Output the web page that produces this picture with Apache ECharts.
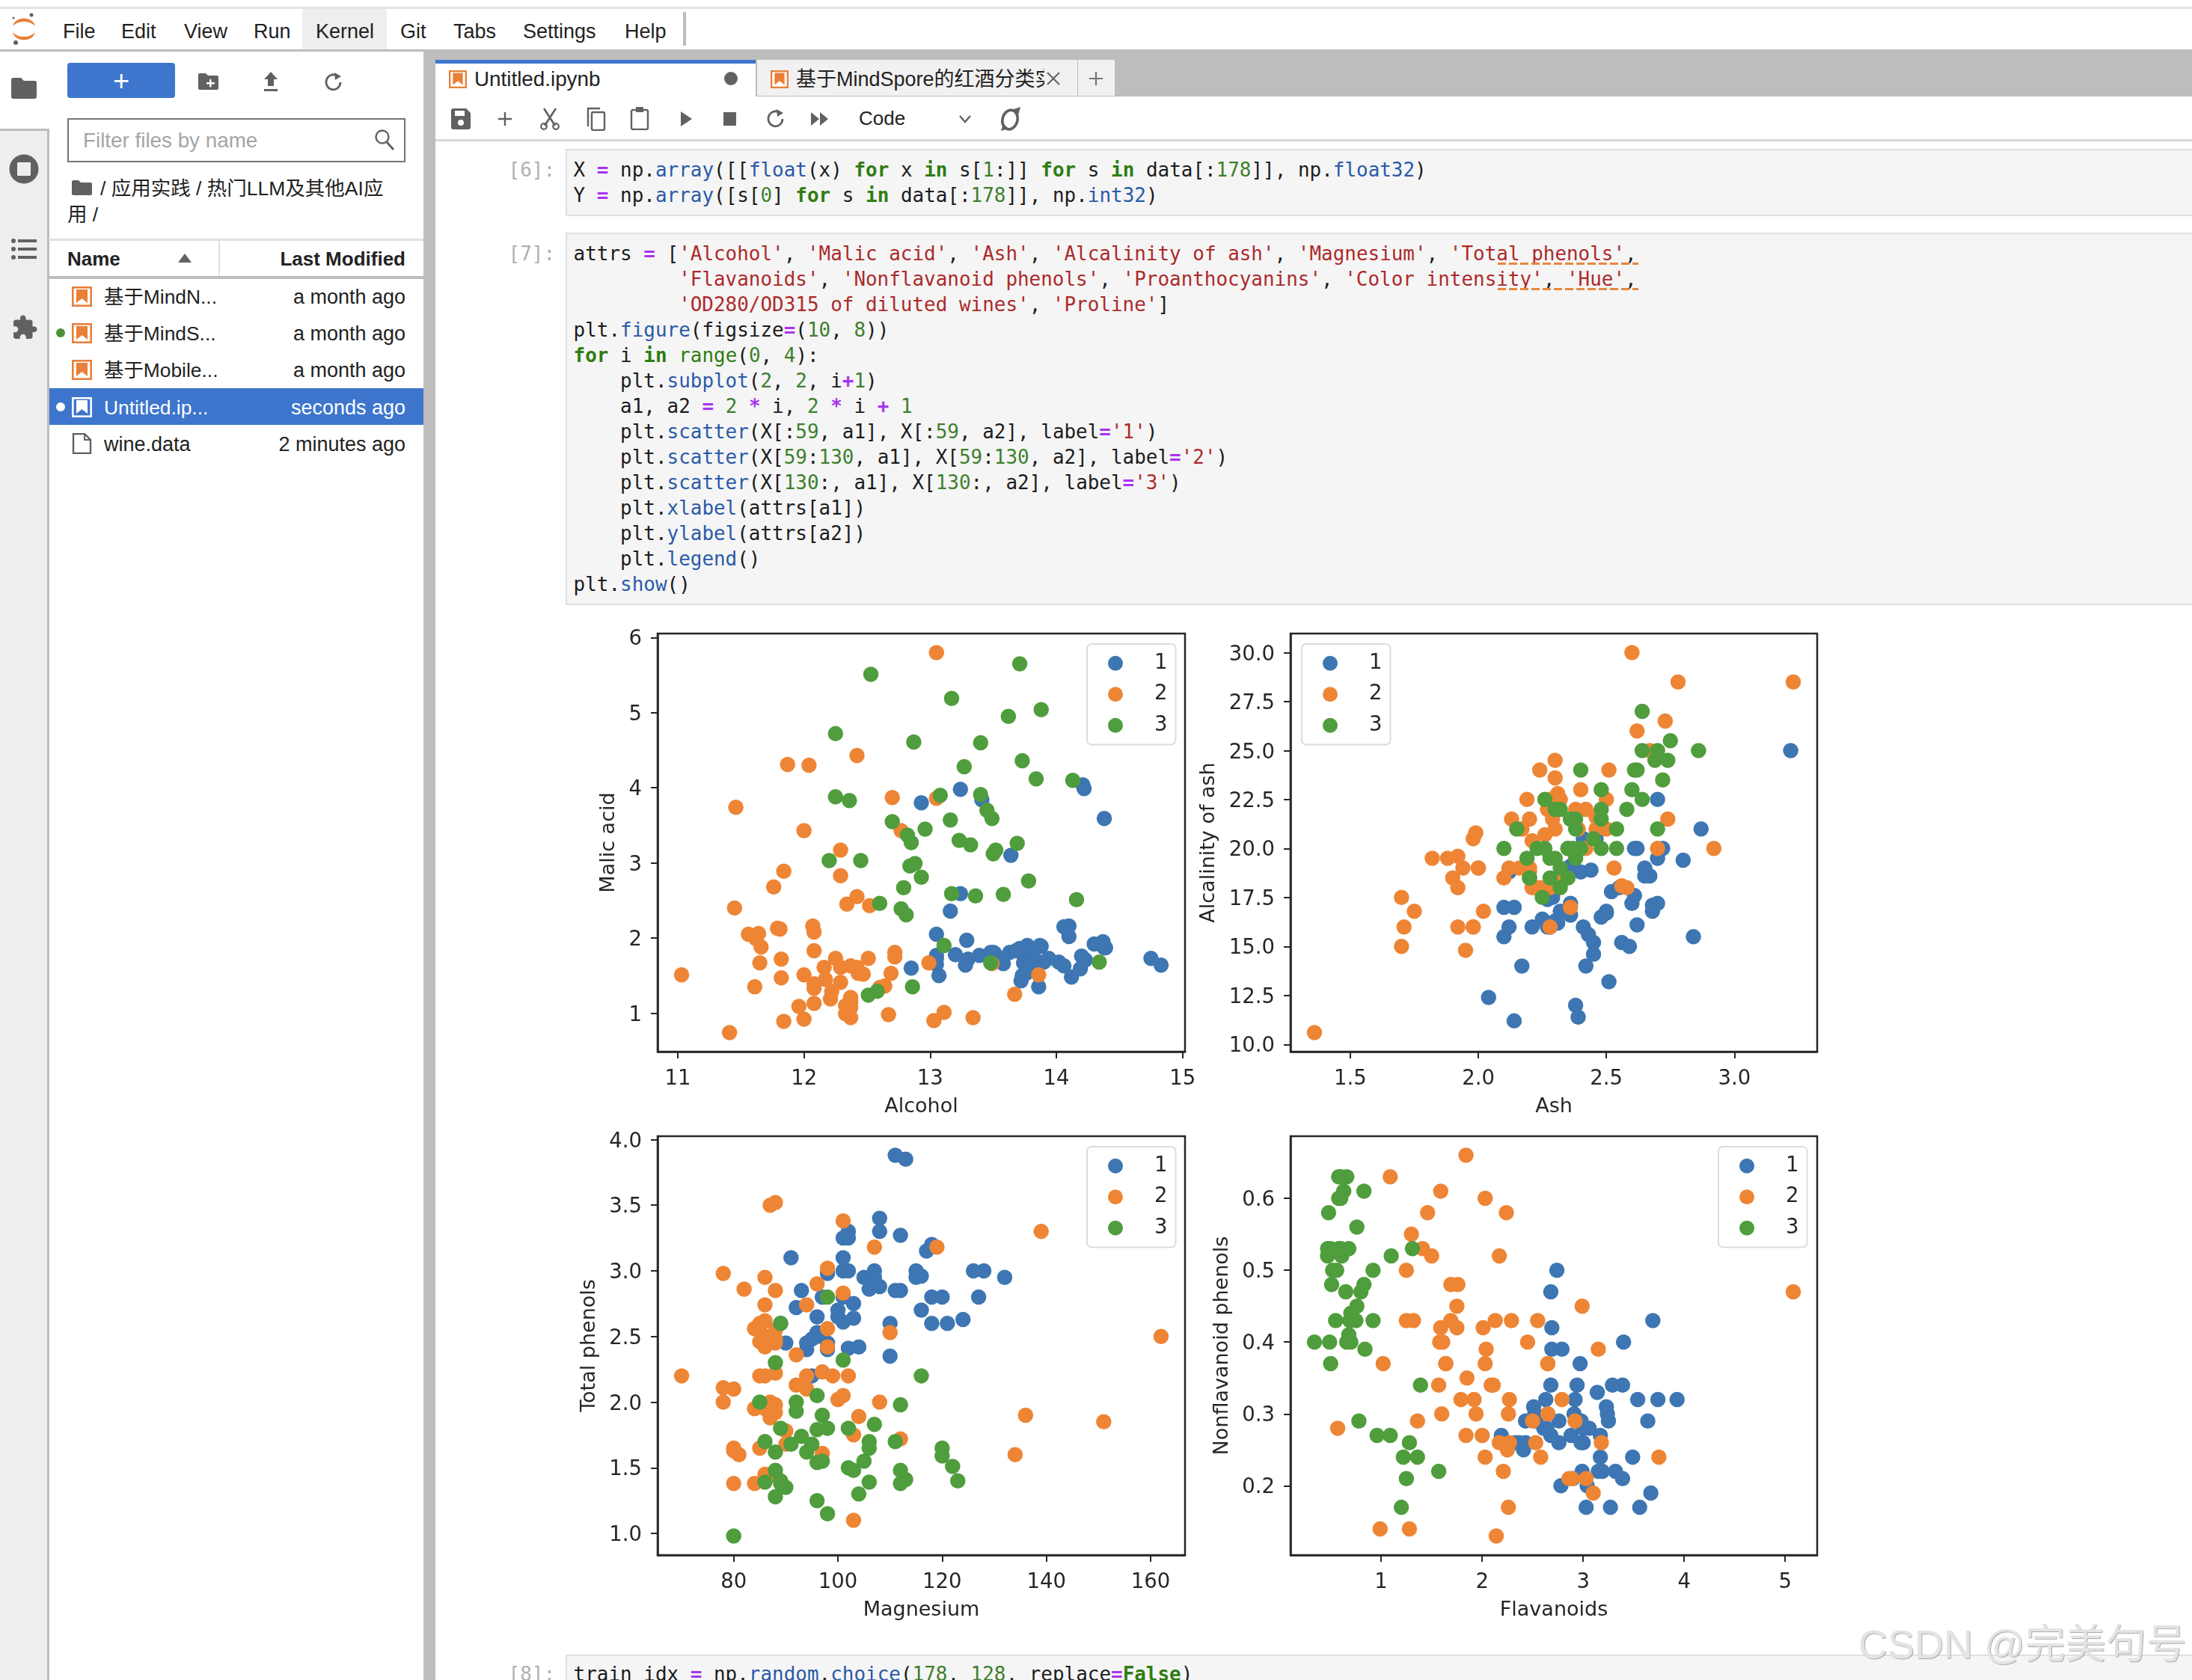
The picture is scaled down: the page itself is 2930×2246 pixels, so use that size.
<!DOCTYPE html>
<html><head><meta charset="utf-8">
<script src="https://cdn.jsdelivr.net/npm/echarts@6/dist/echarts.min.js"></script>
<style>
html,body{margin:0;padding:0;background:#fff;width:2930px;height:2246px;overflow:hidden}
#ui{position:absolute;left:0;top:0;width:2930px;height:2246px;overflow:hidden;font-family:"Liberation Sans","Noto Sans CJK SC",sans-serif;color:#222}
#ui div,#ui svg{position:absolute}
#chart{position:absolute;left:0;top:0;width:2930px;height:2246px}
.t{white-space:pre;line-height:40px;height:40px;font-size:27px}
.c{white-space:pre;line-height:34px;height:34px;font-family:"DejaVu Sans Mono",monospace;font-size:25.95px;color:#1c1c1c}
.c b{font-weight:700;color:#2f7d12}.c u{text-decoration:none;font-weight:700;color:#a933f0}
.c i{font-style:normal;color:#2a5aa8}.c s{text-decoration:none;color:#ac2a2a}.c em{font-style:normal;color:#3d7f2d}
.wm{white-space:pre;font-size:54px;line-height:70px;color:#e4e4e4;text-shadow:1px 1px 1px #a8a8a8}
</style></head><body>
<div id="ui"></div><div id="chart"></div>
<script>
// Columns: alcohol, malic acid, ash, alcalinity of ash, magnesium, total phenols, flavanoids, nonflavanoid phenols
const class1 = [
[14.23,1.71,2.43,15.6,127,2.8,3.06,.28],[13.2,1.78,2.14,11.2,100,2.65,2.76,.26],[13.16,2.36,2.67,18.6,101,2.8,3.24,.3],
[14.37,1.95,2.5,16.8,113,3.85,3.49,.24],[13.24,2.59,2.87,21,118,2.8,2.69,.39],[14.2,1.76,2.45,15.2,112,3.27,3.39,.34],
[14.39,1.87,2.45,14.6,96,2.5,2.52,.3],[14.06,2.15,2.61,17.6,121,2.6,2.51,.31],[14.83,1.64,2.17,14,97,2.8,2.98,.29],
[13.86,1.35,2.27,16,98,2.98,3.15,.22],[14.1,2.16,2.3,18,105,2.95,3.32,.22],[14.12,1.48,2.32,16.8,95,2.2,2.43,.26],
[13.75,1.73,2.41,16,89,2.6,2.76,.29],[14.75,1.73,2.39,11.4,91,3.1,3.69,.43],[14.38,1.87,2.38,12,102,3.3,3.64,.29],
[13.63,1.81,2.7,17.2,112,2.85,2.91,.3],[14.3,1.92,2.72,20,120,2.8,3.14,.33],[13.83,1.57,2.62,20,115,2.95,3.4,.4],
[14.19,1.59,2.48,16.5,108,3.3,3.93,.32],[13.64,3.1,2.56,15.2,116,2.7,3.03,.17],[14.06,1.63,2.28,16,126,3,3.17,.24],
[12.93,3.8,2.65,18.6,102,2.41,2.41,.25],[13.71,1.86,2.36,16.6,101,2.61,2.88,.27],[12.85,1.6,2.52,17.8,95,2.48,2.37,.26],
[13.5,1.81,2.61,20,96,2.53,2.61,.28],[13.05,2.05,3.22,25,124,2.63,2.68,.47],[13.39,1.77,2.62,16.1,93,2.85,2.94,.34],
[13.3,1.72,2.14,17,94,2.4,2.19,.27],[13.87,1.9,2.8,19.4,107,2.95,2.97,.37],[14.02,1.68,2.21,16,96,2.65,2.33,.26],
[13.73,1.5,2.7,22.5,101,3,3.25,.29],[13.58,1.66,2.36,19.1,106,2.86,3.19,.22],[13.68,1.83,2.36,17.2,104,2.42,2.69,.42],
[13.76,1.53,2.7,19.5,132,2.95,2.74,.5],[13.51,1.8,2.65,19,110,2.35,2.53,.29],[13.48,1.81,2.41,20.5,100,2.7,2.98,.26],
[13.28,1.64,2.84,15.5,110,2.6,2.68,.34],[13.05,1.65,2.55,18,98,2.45,2.43,.29],[13.07,1.5,2.1,15.5,98,2.4,2.64,.28],
[14.22,3.99,2.51,13.2,128,3,3.04,.2],[13.56,1.71,2.31,16.2,117,3.15,3.29,.34],[13.41,3.84,2.12,18.8,90,2.45,2.68,.27],
[13.88,1.89,2.59,15,101,3.25,3.56,.17],[13.24,3.98,2.29,17.5,103,2.64,2.63,.32],[13.05,1.77,2.1,17,107,3,3,.28],
[14.21,4.04,2.44,18.9,111,2.85,2.65,.3],[14.38,3.59,2.28,16,102,3.25,3.17,.27],[13.9,1.68,2.12,16,101,3.1,3.39,.21],
[14.1,2.02,2.4,18.8,103,2.75,2.92,.32],[13.94,1.73,2.27,17.4,108,2.88,3.54,.32],[13.05,1.73,2.04,12.4,92,2.72,3.27,.17],
[13.83,1.65,2.6,17.2,94,2.45,2.99,.22],[13.82,1.75,2.42,14,111,3.88,3.74,.32],[13.77,1.9,2.68,17.1,115,3,2.79,.39],
[13.74,1.67,2.25,16.4,118,2.6,2.9,.21],[13.56,1.73,2.46,20.5,116,2.96,2.78,.2],[14.22,1.7,2.3,16.3,118,3.2,3,.26],
[13.29,1.97,2.68,16.8,102,3,3.23,.31],[13.72,1.43,2.5,16.7,108,3.4,3.67,.19]];
const class2 = [
[12.37,.94,1.36,10.6,88,1.98,.57,.28],[12.33,1.1,2.28,16,101,2.05,1.09,.63],[12.64,1.36,2.02,16.8,100,2.02,1.41,.53],
[13.67,1.25,1.92,18,94,2.1,1.79,.32],[12.37,1.13,2.16,19,87,3.5,3.1,.19],[12.17,1.45,2.53,19,104,1.89,1.75,.45],
[12.37,1.21,2.56,18.1,98,2.42,2.65,.37],[13.11,1.01,1.7,15,78,2.98,3.18,.26],[12.37,1.17,1.92,19.6,78,2.11,2,.27],
[13.34,.94,2.36,17,110,2.53,1.3,.55],[12.21,1.19,1.75,16.8,151,1.85,1.28,.14],[12.29,1.61,2.21,20.4,103,1.1,1.02,.37],
[13.86,1.51,2.67,25,86,2.95,2.86,.21],[13.49,1.66,2.24,24,87,1.88,1.84,.27],[12.99,1.67,2.6,30,139,3.3,2.89,.21],
[11.96,1.09,2.3,21,101,3.38,2.14,.13],[11.66,1.88,1.92,16,97,1.61,1.57,.34],[13.03,.9,1.71,16,86,1.95,2.03,.24],
[11.84,2.89,2.23,18,112,1.72,1.32,.43],[12.33,.99,1.95,14.8,136,1.9,1.85,.35],[12.7,3.87,2.4,23,101,2.83,2.55,.43],
[12,.92,2,19,86,2.42,2.26,.3],[12.72,1.81,2.2,18.8,86,2.2,2.53,.26],[12.08,1.13,2.51,24,78,2,1.58,.4],
[13.05,3.86,2.32,22.5,85,1.65,1.59,.61],[11.84,.89,2.58,18,94,2.2,2.21,.22],[12.67,.98,2.24,18,99,2.2,1.94,.3],
[12.16,1.61,2.31,22.8,90,1.78,1.69,.43],[11.65,1.67,2.62,26,88,1.92,1.61,.4],[11.64,2.06,2.46,21.6,84,1.95,1.69,.48],
[12.08,1.33,2.3,23.6,70,2.2,1.59,.42],[12.08,1.83,2.32,18.5,81,1.6,1.5,.52],[12,1.51,2.42,22,86,1.45,1.25,.5],
[12.69,1.53,2.26,20.7,80,1.38,1.46,.58],[12.29,2.83,2.22,18,88,2.45,2.25,.25],[11.62,1.99,2.28,18,98,3.02,2.26,.17],
[12.47,1.52,2.2,19,162,2.5,2.27,.32],[11.81,2.12,2.74,21.5,134,1.6,.99,.14],[12.29,1.41,1.98,16,85,2.55,2.5,.29],
[12.37,1.07,2.1,18.5,88,3.52,3.75,.24],[12.29,3.17,2.21,18,88,2.85,2.99,.45],[12.08,2.08,1.7,17.5,97,2.23,2.17,.26],
[12.6,1.34,1.9,18.5,88,1.45,1.36,.29],[12.34,2.45,2.46,21,98,2.56,2.11,.34],[11.82,1.72,1.88,19.5,86,2.5,1.64,.37],
[12.51,1.73,1.98,20.5,85,2.2,1.92,.32],[12.42,2.55,2.27,22,90,1.68,1.84,.66],[12.25,1.73,2.12,19,80,1.65,2.03,.37],
[12.72,1.75,2.28,22.5,84,1.38,1.76,.48],[12.22,1.29,1.94,19,92,2.36,2.04,.39],[11.61,1.35,2.7,20,94,2.74,2.92,.29],
[11.46,3.74,1.82,19.5,107,3.18,2.58,.24],[12.52,2.43,2.17,21,88,2.55,2.27,.26],[11.76,2.68,2.92,20,103,1.75,2.03,.6],
[11.41,.74,2.5,21,88,2.48,2.01,.42],[12.08,1.39,2.5,22.5,84,2.56,2.29,.43],[11.03,1.51,2.2,21.5,85,2.46,2.17,.52],
[11.82,1.47,1.99,20.8,86,1.98,1.6,.3],[12.42,1.61,2.19,22.5,108,2,2.09,.34],[12.77,3.43,1.98,16,80,1.63,1.25,.43],
[12,3.43,2,19,87,2,1.64,.37],[11.45,2.4,2.42,20,96,2.9,2.79,.32],[11.56,2.05,3.23,28.5,119,3.18,5.08,.47],
[12.42,4.43,2.73,26.5,102,2.2,2.13,.43],[13.05,5.8,2.13,21.5,86,2.62,2.65,.3],[11.87,4.31,2.39,21,82,2.86,3.03,.21],
[12.07,2.16,2.17,21,85,2.6,2.65,.37],[12.43,1.53,2.29,21.5,86,2.74,3.15,.39],[11.79,2.13,2.78,28.5,92,2.13,2.24,.58],
[12.37,1.63,2.3,24.5,88,2.22,2.45,.4],[12.04,4.3,2.38,22,80,2.1,1.75,.42]];
const class3 = [
[12.86,1.35,2.32,18,122,1.51,1.25,.21],[12.88,2.99,2.4,20,104,1.3,1.22,.24],[12.81,2.31,2.4,24,98,1.15,1.09,.27],
[12.7,3.55,2.36,21.5,106,1.7,1.2,.17],[12.51,1.24,2.25,17.5,85,2,.58,.6],[12.6,2.46,2.2,18.5,94,1.62,.66,.63],
[12.25,4.72,2.54,21,89,1.38,.47,.53],[12.53,5.51,2.64,25,96,1.79,.6,.63],[13.49,3.59,2.19,19.5,88,1.62,.48,.58],
[12.84,2.96,2.61,24,101,2.32,.6,.53],[12.93,2.81,2.7,21,96,1.54,.5,.53],[13.36,2.56,2.35,20,89,1.4,.5,.37],
[13.52,3.17,2.72,23.5,97,1.55,.52,.5],[13.62,4.95,2.35,20,92,2,.8,.47],[12.25,3.88,2.2,18.5,112,1.38,.78,.29],
[13.16,3.57,2.15,21,102,1.5,.55,.43],[13.88,5.04,2.23,20,80,.98,.34,.4],[12.87,4.61,2.48,21.5,86,1.7,.65,.47],
[13.32,3.24,2.38,21.5,92,1.93,.76,.45],[13.08,3.9,2.36,21.5,113,1.41,1.39,.34],[13.5,3.12,2.62,24,123,1.4,1.57,.22],
[12.79,2.67,2.48,22,112,1.48,1.36,.24],[13.11,1.9,2.75,25.5,116,2.2,1.28,.26],[13.23,3.3,2.28,18.5,98,1.8,.83,.61],
[12.58,1.29,2.1,20,103,1.48,.58,.53],[13.17,5.19,2.32,22,93,1.74,.63,.61],[13.84,4.12,2.38,19.5,89,1.8,.83,.48],
[12.45,3.03,2.64,27,97,1.9,.58,.63],[14.34,1.68,2.7,25,98,2.8,1.31,.53],[13.48,1.67,2.64,22.5,89,2.6,1.1,.52],
[12.36,3.83,2.38,21,88,2.3,.92,.5],[13.69,3.26,2.54,20,107,1.83,.56,.5],[12.85,3.27,2.58,22,106,1.65,.6,.6],
[12.96,3.45,2.35,18.5,106,1.39,.7,.4],[13.78,2.76,2.3,22,90,1.35,.68,.41],[13.73,4.36,2.26,22.5,88,1.28,.47,.52],
[13.45,3.7,2.6,23,111,1.7,.92,.43],[12.82,3.37,2.3,19.5,88,1.48,.66,.4],[13.58,2.58,2.69,24.5,105,1.55,.84,.39],
[13.4,4.6,2.86,25,112,1.98,.96,.27],[12.2,3.03,2.32,19,96,1.25,.49,.4],[12.77,2.39,2.28,19.5,86,1.39,.51,.48],
[14.16,2.51,2.48,20,91,1.68,.7,.44],[13.71,5.65,2.45,20.5,95,1.68,.61,.52],[13.4,3.91,2.48,23,102,1.8,.75,.43],
[13.27,4.28,2.26,20,120,1.59,.69,.43],[13.17,2.59,2.37,20,120,1.65,.68,.53],[14.13,4.1,2.74,24.5,96,2.05,.76,.56]];
const classNames = ['1','2','3'];
const attrs = ['Alcohol','Malic acid','Ash','Alcalinity of ash','Magnesium','Total phenols','Flavanoids','Nonflavanoid phenols'];
const xTicks = [[11,12,13,14,15],[1.5,2,2.5,3],[80,100,120,140,160],[1,2,3,4,5]];
const yTicks = [[1,2,3,4,5,6],[10,12.5,15,17.5,20,22.5,25,27.5,30],[1,1.5,2,2.5,3,3.5,4],[.2,.3,.4,.5,.6]];
const xDecimals = [0,1,0,0], yDecimals = [0,1,1,1];
const xRanges = [[10.84,15.02],[1.2665,3.3235],[65.4,166.6],[.103,5.317]];
const yRanges = [[.487,6.053],[9.63,30.97],[.835,4.025],[.1035,.6865]];

/* ---------- chart ---------- */
const colors = ['#3d76b2','#ee8535','#4f9d3c'];
const ink = '#262626';
const boxes = [
 {left:879, top:847, width:705, height:559, nameGapY:52, legendLeft:1453, legendTop:861},
 {left:1725,top:847, width:704, height:559, nameGapY:96, legendLeft:1740, legendTop:861},
 {left:879, top:1519,width:705, height:560, nameGapY:78, legendLeft:1453, legendTop:1533},
 {left:1725,top:1519,width:704, height:560, nameGapY:78, legendLeft:2297, legendTop:1533}];
const fontAxis = {fontFamily:'"DejaVu Sans"',color:ink};
const option = {animation:false,backgroundColor:'transparent',grid:[],xAxis:[],yAxis:[],series:[],legend:[]};
boxes.forEach((b,p)=>{
  option.grid.push({left:b.left,top:b.top,width:b.width,height:b.height,show:true,backgroundColor:'#fff',
    borderColor:ink,borderWidth:2.5,containLabel:false,outerBoundsMode:'none'});
  const axis=(ticks,dec,range,name,gap,margin,extra)=>({type:'value',gridIndex:p,min:range[0],max:range[1],name,
    nameLocation:'middle',nameGap:gap,nameTextStyle:{...fontAxis,fontSize:27},
    axisLine:{show:true,onZero:false,lineStyle:{color:ink,width:2.5}},
    axisTick:{show:true,length:9,customValues:ticks,lineStyle:{color:ink,width:2}},
    axisLabel:{show:true,margin,customValues:ticks,...fontAxis,fontSize:27.5,formatter:v=>Number(v).toFixed(dec),hideOverlap:false,...extra},
    splitLine:{show:false}});
  option.xAxis.push(axis(xTicks[p],xDecimals[p],xRanges[p],attrs[2*p],60,23,{}));
  option.yAxis.push(axis(yTicks[p],yDecimals[p],yRanges[p],attrs[2*p+1],b.nameGapY,21,{verticalAlign:'top',padding:[-11,0,0,0]}));
  [class1,class2,class3].forEach((rows,c)=>option.series.push({type:'scatter',name:classNames[c],xAxisIndex:p,yAxisIndex:p,
    symbol:'circle',symbolSize:20.5,itemStyle:{color:colors[c],opacity:1},data:rows.map(r=>[r[2*p],r[2*p+1]]),z:2+c}));
  option.legend.push({show:true,orient:'vertical',left:b.legendLeft,top:b.legendTop,data:classNames,selectedMode:false,
    icon:'circle',itemWidth:20,itemHeight:20,itemGap:13.5,padding:[11.75,11,11.75,28],
    backgroundColor:'rgba(255,255,255,.85)',borderColor:'#dcdcdc',borderWidth:2,borderRadius:6,z:20,
    textStyle:{...fontAxis,fontSize:27.5,padding:[0,0,0,37]}});
});
const chart = echarts.init(document.getElementById('chart'),null,{renderer:'canvas',width:2930,height:2246});
chart.setOption(option);

/* ---------- notebook chrome ---------- */
const ui=document.getElementById('ui');let h='';
const box=(x,y,w,ht,st='')=>{h+=`<div style="left:${x}px;top:${y}px;width:${w}px;height:${ht}px;${st}"></div>`};
const txt=(x,yc,s,st='')=>{h+=`<div class="t" style="left:${x}px;top:${yc-20}px;${st}">${s}</div>`};
const rtxt=(x,yc,s,st='')=>{h+=`<div class="t" style="right:${2930-x}px;top:${yc-20}px;${st}">${s}</div>`};
const svg=(x,y,w,ht,vb,inner)=>{h+=`<svg style="left:${x}px;top:${y}px" width="${w}" height="${ht}" viewBox="${vb}">${inner}</svg>`};
const G='#616161',L='#bdbdbd';
// top strip and menu
box(0,9,2930,3,'background:#e4e4e4');box(0,66,2930,3,`background:${L}`);
box(404,12,113,54,'background:#eee');
[['File',84],['Edit',162],['View',246],['Run',339],['Kernel',422],['Git',535],['Tabs',606],['Settings',699],['Help',835]].forEach(m=>txt(m[1],42,m[0]));
box(913,16,4,45,`background:${L}`);
svg(14,16,36,44,'0 0 36 44','<path d="M3 19C6 5 30 5 33 19C26 11 10 11 3 19Z" fill="#e8803a"/><path d="M3 27C10 35 26 35 33 27C30 41 6 41 3 27Z" fill="#e8803a"/><circle cx="28" cy="4" r="2.500" fill="#616161"/><circle cx="4" cy="8" r="1.500" fill="#616161"/><circle cx="7" cy="41" r="3" fill="#616161"/>');
// side tabs
box(0,172,66,2074,`background:#eee;border-top:3px solid ${L};border-right:3px solid ${L};box-sizing:border-box`);
box(566,69,16,2177,`background:${L}`);
svg(15,104,34,28,'0 0 34 28',`<path d="M3 0H13L17 4H31Q34 4 34 7V25Q34 28 31 28H3Q0 28 0 25V3Q0 0 3 0Z" fill="${G}"/>`);
svg(12,206,40,40,'0 0 40 40',`<circle cx="20" cy="20" r="19.500" fill="${G}"/><rect x="11" y="11" width="18" height="18" rx="1" fill="#eee"/>`);
svg(15,318,34,30,'0 0 34 30',`<g fill="${G}"><circle cx="3" cy="4" r="3"/><circle cx="3" cy="15" r="3"/><circle cx="3" cy="26" r="3"/><rect x="9" y="2" width="25" height="4"/><rect x="9" y="13" width="25" height="4"/><rect x="9" y="24" width="25" height="4"/></g>`);
svg(15,420,36,36,'0 0 24 24',`<path fill="${G}" d="M20.5 11H19V7c0-1.1-.9-2-2-2h-4V3.5C13 2.1 11.9 1 10.5 1S8 2.1 8 3.5V5H4c-1.1 0-2 .9-2 2v3.8h1.5c1.5 0 2.7 1.2 2.7 2.7s-1.2 2.7-2.7 2.7H2V20c0 1.1.9 2 2 2h3.8v-1.5c0-1.5 1.2-2.7 2.7-2.7s2.7 1.2 2.7 2.7V22H17c1.1 0 2-.9 2-2v-4h1.5c1.4 0 2.5-1.1 2.5-2.5S21.9 11 20.5 11z"/>`);
// file browser
box(90,84,144,47,'background:#3d76cc;border-radius:4px');
txt(151,108,'+','color:#fff;font-size:38px');
svg(265,98,27,22,'0 0 27 22',`<path d="M2 0H10L13 3H25Q27 3 27 5V20Q27 22 25 22H2Q0 22 0 20V2Q0 0 2 0Z" fill="${G}"/><path d="M15 8h2.500v4H22v2.500h-4.500v4H15v-4h-4V12h4z" fill="#fff"/>`);
svg(352,96,20,26,'0 0 20 26',`<path d="M10 0L19 10H14V19H6V10H1Z" fill="${G}"/><rect x="1" y="23" width="18" height="3" fill="${G}"/>`);
svg(434,97,24,26,'0 0 24 26',`<path d="M21 13a9.500 10 0 1 1-5-9" fill="none" stroke="${G}" stroke-width="2.800"/><path d="M13 0L22 5L14 10Z" fill="${G}"/>`);
box(90,158,452,59,'border:2px solid #757575;box-sizing:border-box;background:#fff');
txt(111,188,'Filter files by name','color:#a5a5a5;font-size:27.8px');
svg(500,172,28,30,'0 0 28 30',`<circle cx="11" cy="11" r="8.500" fill="none" stroke="${G}" stroke-width="2.400"/><path d="M17 18L26 28" stroke="${G}" stroke-width="3"/>`);
svg(96,241,27,20,'0 0 27 20',`<path d="M2 0H9L12 3H25Q27 3 27 5V18Q27 20 25 20H2Q0 20 0 18V2Q0 0 2 0Z" fill="${G}"/>`);
txt(134,252,'/ 应用实践 / 热门LLM及其他AI应','font-size:26.5px');txt(90,287,'用 /','font-size:26.5px');
box(65,319,501,3,'background:#e0e0e0');box(292,320,2,49,'background:#e0e0e0');box(66,369,500,4,`background:${L}`);
txt(90,346,'Name','font-weight:700;font-size:26px');rtxt(542,346,'Last Modified','font-weight:700;font-size:26px');
svg(238,339,18,12,'0 0 18 12',`<path d="M9 0L18 12H0Z" fill="${G}"/>`);
box(66,519,500,49,'background:#3d76cc');
const nb=(x,y,w,ht,col,bg)=>svg(x,y,w,ht,'0 0 27 27',`<rect x="1.300" y="1.300" width="24.400" height="24.400" fill="${bg}" stroke="${col}" stroke-width="2.600"/><path d="M6 4H21V22L13.500 16L6 22Z" fill="${col}"/>`);
[['基于MindN...','a month ago',396],['基于MindS...','a month ago',445],['基于Mobile...','a month ago',494],['Untitled.ip...','seconds ago',544]].forEach((r,i)=>{
  const c=i==3?'color:#fff':'';nb(96,r[2]-13,27,27,i==3?'#fff':'#e8803a',i==3?'#3d76cc':'#fff');txt(139,r[2]+1,r[0],c+';font-size:26.4px');rtxt(542,r[2]+1,r[1],c);});
svg(96,579,27,28,'0 0 27 28',`<path d="M2 1H17L25 9V27H2Z" fill="#fff" stroke="${G}" stroke-width="2.400"/><path d="M17 1V9H25" fill="none" stroke="${G}" stroke-width="2"/>`);
txt(139,594,'wine.data');rtxt(542,594,'2 minutes ago');
svg(75,439,12,12,'0 0 12 12','<circle cx="6" cy="6" r="6" fill="#4f8f3c"/>');svg(75,538,12,12,'0 0 12 12','<circle cx="6" cy="6" r="6" fill="#fff"/>');
// tab bar
box(582,69,2348,60,`background:${L}`);
box(582,80,428,50,'background:#fff');box(582,80,428,5,'background:#3d76cc');
box(1012,80,428,48,'background:#f1f1f1');box(1441,80,49,48,'background:#f1f1f1');
nb(600,94,24,24,'#e8803a','#fff');txt(634,106,'Untitled.ipynb','font-size:27.8px');
svg(968,96,18,18,'0 0 18 18',`<circle cx="9" cy="9" r="9" fill="${G}"/>`);
nb(1030,94,24,24,'#e8803a','#fff');
h+=`<div class="t" style="left:1064px;top:86px;width:332px;overflow:hidden">基于MindSpore的红酒分类实验</div>`;
svg(1398,95,20,20,'0 0 20 20',`<path d="M2 2L18 18M18 2L2 18" stroke="${G}" stroke-width="2"/>`);
svg(1455,95,20,20,'0 0 20 20',`<path d="M10 1V19M1 10H19" stroke="#757575" stroke-width="2.200"/>`);
// toolbar
box(582,186,2348,3,'background:#d8d8d8');
svg(603,145,26,28,'0 0 26 28',`<path d="M3 0H20L26 6V25Q26 28 23 28H3Q0 28 0 25V3Q0 0 3 0Z" fill="${G}"/><rect x="5" y="3" width="13" height="7" fill="#fff"/><circle cx="13" cy="19" r="4" fill="#fff"/>`);
svg(665,149,20,20,'0 0 20 20',`<path d="M10 1V19M1 10H19" stroke="${G}" stroke-width="2.400"/>`);
svg(721,144,28,30,'0 0 28 30',`<path d="M6 1L21 24M22 1L7 24" stroke="${G}" stroke-width="2.600"/><circle cx="6" cy="25" r="3.800" fill="none" stroke="${G}" stroke-width="2.200"/><circle cx="22" cy="25" r="3.800" fill="none" stroke="${G}" stroke-width="2.200"/>`);
svg(784,143,26,32,'0 0 26 32',`<path d="M2 26V2H18" fill="none" stroke="${G}" stroke-width="2.400"/><rect x="7" y="7" width="17" height="24" rx="2" fill="none" stroke="${G}" stroke-width="2.400"/>`);
svg(842,142,26,32,'0 0 26 32',`<rect x="2" y="5" width="22" height="26" rx="2" fill="none" stroke="${G}" stroke-width="2.400"/><rect x="8" y="1" width="10" height="7" fill="${G}"/>`);
svg(910,149,15,20,'0 0 15 20',`<path d="M0 0L15 10L0 20Z" fill="${G}"/>`);
svg(967,150,17,18,'0 0 17 18',`<rect width="17" height="18" fill="${G}"/>`);
svg(1025,146,24,26,'0 0 24 26',`<path d="M21 13a9.500 10 0 1 1-5-9" fill="none" stroke="${G}" stroke-width="2.800"/><path d="M13 0L22 5L14 10Z" fill="${G}"/>`);
svg(1084,150,24,18,'0 0 24 18',`<path d="M0 0L11 9L0 18ZM12 0L23 9L12 18Z" fill="${G}"/>`);
txt(1148,158,'Code','font-size:26px');
svg(1281,153,18,12,'0 0 18 12',`<path d="M2 2L9 10L16 2" fill="none" stroke="${G}" stroke-width="2.400"/>`);
svg(1336,142,30,34,'0 0 30 34',`<ellipse cx="14" cy="18" rx="10" ry="13" transform="rotate(15 14 18)" fill="none" stroke="${G}" stroke-width="3.600"/><path d="M16 5L28 1L25 12ZM12 30L2 33L5 23Z" fill="${G}"/>`);
// code cells
const cell=(y,ht)=>box(756,y,2174,ht,'background:#f5f5f5;border:2px solid #e0e0e0;border-right:none;box-sizing:border-box');
const prompt=(yc,s)=>h+=`<div class="c" style="right:${2930-742}px;top:${yc-17}px;color:#b0b0b0">${s}</div>`;
const code=(yc,s)=>h+=`<div class="c" style="left:766.6px;top:${yc-17}px">${s}</div>`;
cell(199,90);prompt(227,'[6]:');
code(227,`X <u>=</u> np.<i>array</i>([[<i>float</i>(x) <b>for</b> x <b>in</b> s[<em>1</em>:]] <b>for</b> s <b>in</b> data[:<em>178</em>]], np.<i>float32</i>)`);
code(261,`Y <u>=</u> np.<i>array</i>([s[<em>0</em>] <b>for</b> s <b>in</b> data[:<em>178</em>]], np.<i>int32</i>)`);
cell(311,498);prompt(339,'[7]:');
const cellLines=[
`attrs <u>=</u> [<s>'Alcohol'</s>, <s>'Malic acid'</s>, <s>'Ash'</s>, <s>'Alcalinity of ash'</s>, <s>'Magnesium'</s>, <s>'Total phenols'</s>,`,
`         <s>'Flavanoids'</s>, <s>'Nonflavanoid phenols'</s>, <s>'Proanthocyanins'</s>, <s>'Color intensity'</s>, <s>'Hue'</s>,`,
`         <s>'OD280/OD315 of diluted wines'</s>, <s>'Proline'</s>]`,
`plt.<i>figure</i>(figsize<u>=</u>(<em>10</em>, <em>8</em>))`,
`<b>for</b> i <b>in</b> <span style="color:#2f7d12">range</span>(<em>0</em>, <em>4</em>):`,
`    plt.<i>subplot</i>(<em>2</em>, <em>2</em>, i<u>+</u><em>1</em>)`,
`    a1, a2 <u>=</u> <em>2</em> <u>*</u> i, <em>2</em> <u>*</u> i <u>+</u> <em>1</em>`,
`    plt.<i>scatter</i>(X[:<em>59</em>, a1], X[:<em>59</em>, a2], label<u>=</u><s>'1'</s>)`,
`    plt.<i>scatter</i>(X[<em>59</em>:<em>130</em>, a1], X[<em>59</em>:<em>130</em>, a2], label<u>=</u><s>'2'</s>)`,
`    plt.<i>scatter</i>(X[<em>130</em>:, a1], X[<em>130</em>:, a2], label<u>=</u><s>'3'</s>)`,
`    plt.<i>xlabel</i>(attrs[a1])`,
`    plt.<i>ylabel</i>(attrs[a2])`,
`    plt.<i>legend</i>()`,
`plt.<i>show</i>()`];
cellLines.forEach((l,i)=>code(339+34*i,l));
const dash='background:repeating-linear-gradient(90deg,#e8873d 0 11px,transparent 11px 15px)';
box(2002,351,188,3,dash);box(2002,385,188,3,dash);
cell(2212,60);prompt(2238,'[8]:');
code(2238,`train_idx <u>=</u> np.<i>random</i>.<i>choice</i>(<em>178</em>, <em>128</em>, replace<u>=</u><b>False</b>)`);
ui.innerHTML=h;
// watermark above everything
const wm=document.createElement('div');wm.className='wm';wm.textContent='CSDN @完美句号';
wm.style.cssText='position:absolute;left:2484px;top:2163px;z-index:5;font-family:"Liberation Sans","Noto Sans CJK SC",sans-serif';
document.body.appendChild(wm);
</script></body></html>
